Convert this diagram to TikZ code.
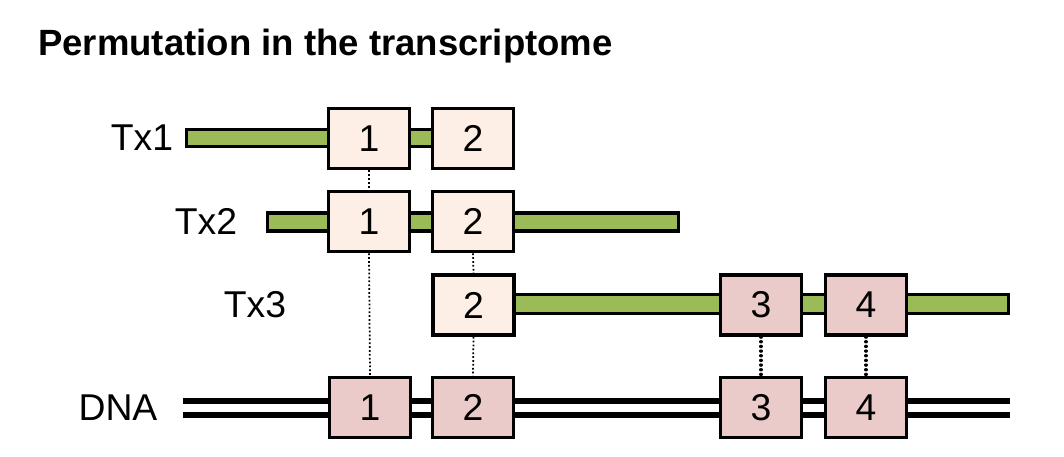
\documentclass[tikz,border=0pt]{standalone}
\usepackage{fontspec}
\setmainfont{Liberation Sans}
\definecolor{exgreen}{HTML}{9BBB59}
\definecolor{excream}{HTML}{FDEFE5}
\definecolor{expink}{HTML}{EACBCA}
\begin{document}
\begin{tikzpicture}[x=0.75pt,y=-0.75pt,
  exon/.style={draw=black, line width=2.8pt, minimum width=60.75pt, minimum height=45pt, inner sep=0pt, font=\fontsize{28}{30}\selectfont},
  txexon/.style={exon, fill=excream},
  dnaexon/.style={exon, fill=expink},
  bar/.style={draw=black, fill=exgreen, line width=2.5pt},
  strand/.style={draw=black, line width=4.5pt},
  lbl/.style={font=\fontsize{28}{30}\selectfont, inner sep=0pt},
  link/.style={line width=1.3pt, dash pattern=on 1.3pt off 1.6pt},
  boldlink/.style={line width=2.3pt, line cap=round, dash pattern=on 0.3pt off 3.2pt}]
\useasboundingbox (0,0) rectangle (1064,457);
\node[anchor=base west, inner sep=0pt, font=\fontsize{27.4}{30}\selectfont\bfseries] (title) at (38,55) {Permutation in the transcriptome};
% bars
\draw[bar] (186.5,129.5) rectangle (473,146.5);
\draw[bar] (267.5,213) rectangle (678.5,231);
\draw[bar] (473,294.5) rectangle (1008.5,313.5);
% DNA strands
\draw[strand] (183,401) -- (1010,401);
\draw[strand] (183,415) -- (1010,415);
% labels
\node[lbl] (l1) at (142,138) {Tx1};
\node[lbl] (l2) at (206,221.5) {Tx2};
\node[lbl] (l3) at (255,304.5) {Tx3};
\node[lbl] (l4) at (118,407.5) {DNA};
% exons
\node[txexon] (a1) at (369,138.5) {1};
\node[txexon] (a2) at (473,138.5) {2};
\node[txexon] (b1) at (369,221.5) {1};
\node[txexon] (b2) at (473,221.5) {2};
\node[txexon] (c2) at (473.5,305) {2};
\node[dnaexon] (c3) at (761,305) {3};
\node[dnaexon] (c4) at (866,305) {4};
\node[dnaexon] (d1) at (370,407.5) {1};
\node[dnaexon] (d2) at (473,407.5) {2};
\node[dnaexon] (d3) at (761,407.5) {3};
\node[dnaexon] (d4) at (866,407.5) {4};
% links
\draw[link] (a1.south) -- (b1.north);
\draw[link] (b1.south) -- (d1.north);
\draw[link] (b2.south) -- (c2.north);
\draw[link] (c2.south) -- (d2.north);
\draw[boldlink] (c3.south) -- (d3.north);
\draw[boldlink] (c4.south) -- (d4.north);
\end{tikzpicture}
\end{document}
